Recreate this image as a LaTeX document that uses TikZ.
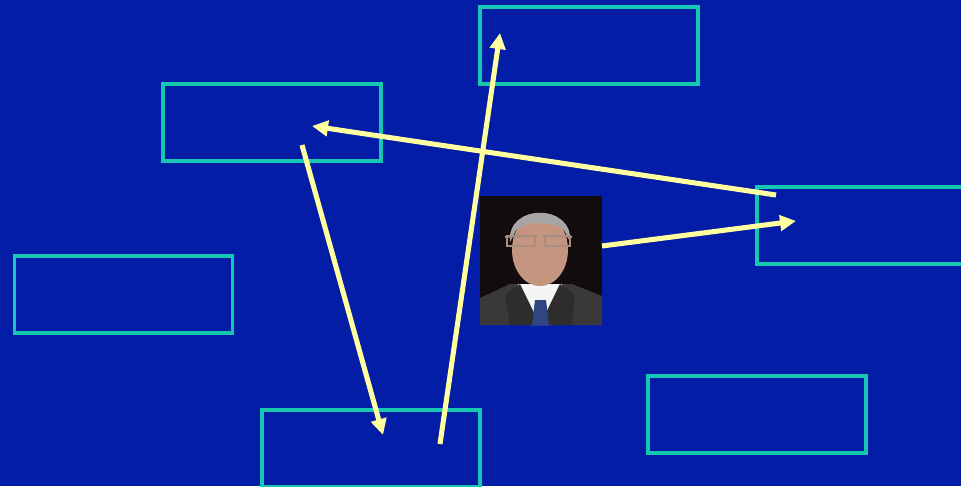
\documentclass[tikz,border=0pt]{standalone}
\usetikzlibrary{arrows.meta}
\definecolor{slide}{RGB}{3,29,166}
\definecolor{frame}{RGB}{22,200,176}
\definecolor{pen}{RGB}{255,255,160}
\definecolor{skin}{RGB}{196,150,128}
\definecolor{suit}{RGB}{58,56,58}
\definecolor{backdrop}{RGB}{18,12,14}
\definecolor{tie}{RGB}{48,70,130}
\begin{document}
\begin{tikzpicture}[x=0.75pt,y=-0.75pt,
    box/.style={draw=frame,line width=2.3pt,inner sep=0pt,
      minimum width=163.5pt,minimum height=57.75pt},
    arr/.style={pen,line width=3.8pt,-{Triangle[length=12pt,width=11.5pt]}}]
  \useasboundingbox (0,0) rectangle (961,486);
  \clip (0,0) rectangle (961,486);
  \fill[slide] (0,0) rectangle (961,486);
  % boxes
  \node[box] (top)    at (589,45.5)  {};
  \node[box] (upleft) at (272,122.5) {};
  \node[box] (right)  at (866,225.5) {};
  \node[box] (left)   at (123.5,294.5) {};
  \node[box] (bottom) at (371,448.5) {};
  \node[box] (lowright) at (757,414.5) {};
  % photo
  \node[fill=backdrop,inner sep=0pt,
    minimum width=91.5pt,minimum height=96.75pt] (photo) at (541,260.5) {};
  \fill[suit] (480,298) -- (510,284) -- (572,284) -- (602,296) -- (602,325) -- (480,325) -- cycle;
  \fill[white!92!gray] (518,284) -- (562,284) -- (552,325) -- (530,325) -- cycle;
  \fill[skin] (540,250) ellipse [x radius=28, y radius=36];
  \fill[suit!80!black] (520,284) -- (540,325) -- (510,325) -- (505,295) -- cycle;
  \fill[suit!80!black] (560,284) -- (540,325) -- (572,325) -- (575,295) -- cycle;
  \fill[tie] (535,300) -- (546,300) -- (549,325) -- (532,325) -- cycle;
  \fill[gray!70] (510,242) .. controls (506,203) and (574,203) .. (570,242)
    -- (565,232) .. controls (560,220) and (520,220) .. (515,232) -- cycle;
  \draw[gray!40!skin,line width=1.2pt] (505,237) -- (537,236) (543,236) -- (572,237);
  \draw[gray!40!skin,line width=1pt] (507,236) rectangle (535,246) (545,236) rectangle (570,246);
  % connectors
  \coordinate (fromUpleft) at (302,145);
  \coordinate (intoBottom) at (383,435);
  \coordinate (fromBottom) at (440,444);
  \coordinate (intoTop)    at (500,33);
  \coordinate (fromRight)  at (776,195);
  \coordinate (intoUpleft) at (312,126);
  \coordinate (fromPhoto)  at (602,246);
  \coordinate (intoRight)  at (796,221);
  \draw[arr] (fromUpleft) -- (intoBottom);
  \draw[arr] (fromBottom) -- (intoTop);
  \draw[arr] (fromRight) -- (intoUpleft);
  \draw[arr] (fromPhoto) -- (intoRight);
\end{tikzpicture}
\end{document}
